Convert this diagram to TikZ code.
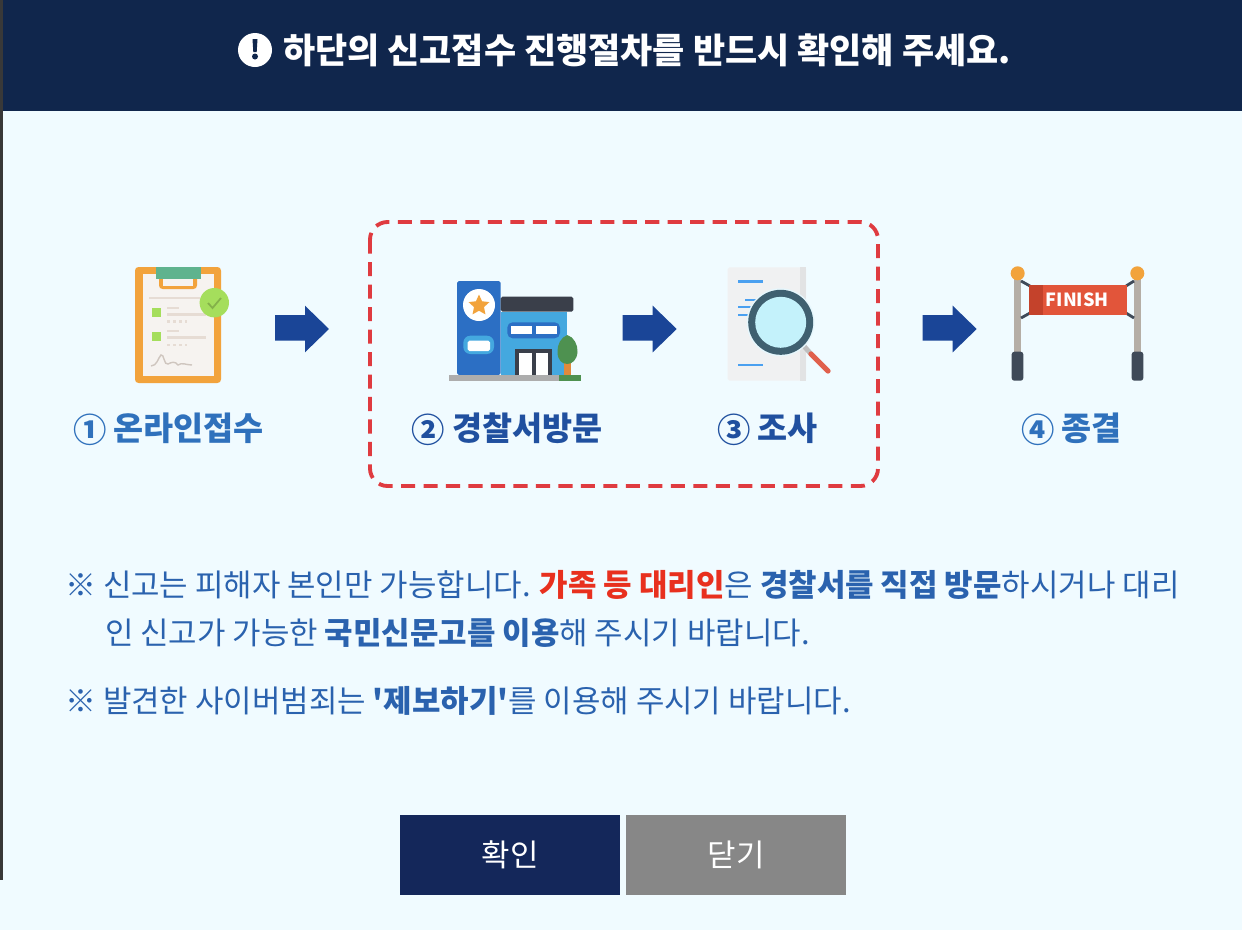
\documentclass[tikz,border=0pt]{standalone}
\usepackage{fontspec}
\setmainfont{Noto Sans CJK KR}
\usetikzlibrary{calc}
\usetikzlibrary{shapes}
\definecolor{navy}{HTML}{10264C}
\definecolor{btnnavy}{HTML}{14275A}
\definecolor{pagebg}{HTML}{F0FBFF}
\definecolor{noteblue}{HTML}{2A62AE}
\definecolor{labelblue}{HTML}{2F71BC}
\definecolor{labeldark}{HTML}{20509F}
\definecolor{arrowblue}{HTML}{1A4597}
\definecolor{alertred}{HTML}{E8301E}
\definecolor{dashred}{HTML}{DF3B40}
\definecolor{clipor}{HTML}{F2A33C}
\definecolor{leafgreen}{HTML}{A5DE5C}
\definecolor{clipgreen}{HTML}{5FB38E}
\definecolor{paper}{HTML}{F6F3F0}
\definecolor{inkline}{HTML}{E6DCD4}
\definecolor{towerblue}{HTML}{2C6FC4}
\definecolor{wallblue}{HTML}{44A8DF}
\definecolor{roofdark}{HTML}{3A3F4A}
\definecolor{treegreen}{HTML}{4E9150}
\definecolor{trunkor}{HTML}{E08A3C}
\definecolor{docgray}{HTML}{F0F1F2}
\definecolor{docshade}{HTML}{E2E3E4}
\definecolor{docline}{HTML}{4AA0F0}
\definecolor{lensrim}{HTML}{3F6070}
\definecolor{lensglass}{HTML}{C4F2FB}
\definecolor{handlered}{HTML}{E0604C}
\definecolor{bannerred}{HTML}{E2553A}
\definecolor{bannerdark}{HTML}{C4422B}
\definecolor{polegray}{HTML}{B5AEA6}
\definecolor{footdark}{HTML}{3F4A58}
\tikzset{
    txt/.style={inner sep=0pt,outer sep=0pt},
    note/.style={txt,anchor=base west,text=noteblue,font=\fontsize{17.6}{20}\selectfont},
    stepno/.style={txt,font=\bfseries\fontsize{19}{20}\selectfont},
    steplabel/.style={txt,anchor=west,font=\bfseries\fontsize{18.6}{20}\selectfont},
    btn/.style={txt,minimum width=124.7pt,minimum height=45.35pt,text=white,font=\fontsize{17.6}{20}\selectfont},
}
\begin{document}
\begin{tikzpicture}[x=0.02cm,y=-0.02cm]
    \useasboundingbox (0,0) rectangle (1242,930);
    %page
    \fill[pagebg] (0,0) rectangle (1242,930);
    \fill[black!78] (0,0) rectangle (3,880);
    \fill[navy] (3,0) rectangle (1242,110.5);

    %title
    \fill[white] (255,50) circle (17);
    \fill[navy] (252.5,39) -- (257.5,39) -- (256.7,52) -- (253.3,52) -- cycle;
    \fill[navy] (255,56.5) circle (3);
    \node[txt,anchor=west,text=white,font=\bfseries\fontsize{19.9}{20}\selectfont] (title) at (283,50) {하단의 신고접수 진행절차를 반드시 확인해 주세요.};

    %dashed box
    \draw[dashred,line width=2.2pt,rounded corners=10pt,dash pattern=on 8pt off 4.8pt] (370,222) rectangle (878,486);

    %clipboard
    \fill[clipor,rounded corners=2pt] (135,267) rectangle (221,383);
    \fill[paper] (142.7,274) rectangle (214,376);
    \fill[clipor,rounded corners=2pt] (159,275) rectangle (197,289);
    \fill[paper] (163,279) rectangle (193,285.5);
    \fill[clipgreen] (156,267) rectangle (200.7,279);
    \draw[inkline,line width=1.3pt] (149,298) -- (200,298);
    \fill[leafgreen] (151.7,308) rectangle (160.7,317);
    \fill[leafgreen] (151.7,331.5) rectangle (160.7,340.5);
    \draw[inkline,line width=1.3pt] (167,308) -- (179,308);
    \draw[inkline,line width=1.3pt] (167,314.5) -- (206,314.5);
    \draw[inkline,line width=1.3pt] (167,331) -- (179,331);
    \draw[inkline,line width=1.3pt] (167,337.5) -- (206,337.5);
    \draw[inkline,line width=1.3pt,dash pattern=on 1.5pt off 2pt] (167,321.5) -- (187,321.5);
    \draw[inkline,line width=1.3pt,dash pattern=on 1.5pt off 2pt] (167,345) -- (187,345);
    \draw[inkline!90!black,line width=0.8pt] (151,366) .. controls (157,366) and (158,358) .. (161,355) .. controls (164,353) and (164,366) .. (168,364) .. controls (172,362) and (175,361) .. (178,365) .. controls (182,362) and (186,365) .. (192,365);
    \fill[leafgreen] (214.3,302.7) circle (14.7);
    \draw[leafgreen!80!black,line width=1pt] (208,303) -- (212.5,308) -- (221,298);

    %building
    \fill[towerblue,rounded corners=1pt] (457,281) rectangle (500.7,375);
    \fill[white] (479,305) circle (16);
    \node[star,star points=5,star point ratio=2.1,fill=clipor,txt,minimum size=12.5pt] (policestar) at (479,305.5) {};
    \fill[wallblue,rounded corners=4pt] (463.3,335.7) rectangle (494,354);
    \fill[white,rounded corners=1pt] (467.7,340.7) rectangle (490,351);
    \fill[wallblue] (500.7,311.7) rectangle (566.7,375);
    \fill[roofdark,rounded corners=1pt] (500.7,296.7) rectangle (573.3,311.7);
    \fill[towerblue,rounded corners=3pt] (507.3,322.3) rectangle (560,338.3);
    \fill[white] (510.7,325.7) rectangle (531.7,334.3);
    \fill[white] (535.7,325.7) rectangle (556.7,334.3);
    \fill[roofdark] (515,349.3) rectangle (552.3,375);
    \fill[white] (519.3,353.3) rectangle (531.7,375);
    \fill[white] (536,353.3) rectangle (548.3,375);
    \fill[black!32] (449,375) rectangle (560,380.7);
    \fill[treegreen] (559,375) rectangle (581,380.7);
    \fill[trunkor] (564,362) rectangle (570.7,375);
    \fill[treegreen] (567.3,335) .. controls (574,337) and (578,345) .. (577.5,352) .. controls (577,360) and (572,364) .. (567.3,364) .. controls (562,364) and (557.5,360) .. (557.5,352) .. controls (557,345) and (561,337) .. (567.3,335);

    %document and lens
    \fill[docgray,rounded corners=1pt] (727.7,267.3) rectangle (806,380.7);
    \fill[docshade] (800,267.3) rectangle (806,380.7);
    \draw[docline,line width=1.7pt] (738.3,281.7) -- (763.3,281.7);
    \draw[docline,line width=1.7pt] (745,300) -- (760,300);
    \draw[docline,line width=1.7pt] (738.3,307) -- (760,307);
    \draw[docline,line width=1.7pt] (738.3,315) -- (760,315);
    \draw[docline,line width=1.7pt] (738.3,365) -- (763.3,365);
    \draw[black!25,line width=2.8pt] (803,345) -- (811,354);
    \draw[handlered,line width=3pt,line cap=round] (811,354) -- (828,371);
    \fill[white!90!cyan] (780.7,322.3) circle (34);
    \fill[lensrim] (780.7,322.3) circle (32.5);
    \fill[lensglass] (780.7,322.3) circle (25.5);

    %finish banner
    \fill[polegray] (1014.2,275) rectangle (1021.2,352);
    \fill[polegray] (1133.8,275) rectangle (1140.8,352);
    \draw[footdark,line width=1.6pt] (1021,281) -- (1030,286);
    \draw[footdark,line width=1.6pt] (1021,318) -- (1030,313);
    \draw[footdark,line width=1.6pt] (1134,281) -- (1126,286);
    \draw[footdark,line width=1.6pt] (1134,318) -- (1126,313);
    \fill[clipor] (1017.7,273.3) circle (7);
    \fill[clipor] (1137.3,273.3) circle (7);
    \fill[footdark,rounded corners=1.5pt] (1011.7,351.7) rectangle (1023.3,380.7);
    \fill[footdark,rounded corners=1.5pt] (1131.7,351.7) rectangle (1143.3,380.7);
    \fill[bannerred] (1029.3,285) rectangle (1126.7,315);
    \fill[bannerdark] (1029.3,285) rectangle (1043,315);
    \node[txt,text=white,font=\bfseries\fontsize{10.3}{12}\selectfont] (finish) at (1077.3,300) {FINISH};

    %arrows
    \fill[arrowblue] (275,315) -- (305,315) -- (305,305.7) -- (329,329) -- (305,352.3) -- (305,340.7) -- (275,340.7) -- cycle;
    \fill[arrowblue] (622.7,315) -- (652.7,315) -- (652.7,305.7) -- (676.7,329) -- (652.7,352.3) -- (652.7,340.7) -- (622.7,340.7) -- cycle;
    \fill[arrowblue] (922.7,315) -- (952.7,315) -- (952.7,305.7) -- (976.7,329) -- (952.7,352.3) -- (952.7,340.7) -- (922.7,340.7) -- cycle;

    %step labels
    \node[stepno,text=labelblue] (no1) at (90,430) {①};
    \node[steplabel,text=labelblue] (step1) at (113,428) {온라인접수};
    \node[stepno,text=labeldark] (no2) at (428.5,430) {②};
    \node[steplabel,text=labeldark] (step2) at (452,428) {경찰서방문};
    \node[stepno,text=labeldark] (no3) at (734.5,430) {③};
    \node[steplabel,text=labeldark] (step3) at (757,428) {조사};
    \node[stepno,text=labelblue] (no4) at (1038.5,430) {④};
    \node[steplabel,text=labelblue] (step4) at (1061,428) {종결};

    %notes
    \node[note] (mark1) at (65,596) {※};
    \node[note] (note1) at (103,596) {신고는 피해자 본인만 가능합니다. \textcolor{alertred}{\textbf{가족 등 대리인}}은 \textbf{경찰서를 직접 방문}하시거나 대리};
    \node[note] (note2) at (105,644) {인 신고가 가능한 \textbf{국민신문고를 이용}해 주시기 바랍니다.};
    \node[note] (mark2) at (65,712) {※};
    \node[note] (note3) at (103,712) {발견한 사이버범죄는 \textbf{\textquotesingle 제보하기\textquotesingle}를 이용해 주시기 바랍니다.};

    %buttons
    \node[btn,fill=btnnavy] (okbtn) at (510,855) {확인};
    \node[btn,fill=black!47] (closebtn) at (736,855) {닫기};
\end{tikzpicture}
\end{document}
